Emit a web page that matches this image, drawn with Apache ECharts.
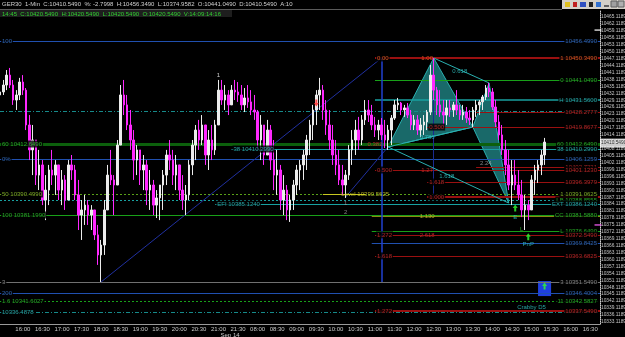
<!DOCTYPE html>
<html>
<head>
<meta charset="utf-8">
<script src="https://cdn.jsdelivr.net/npm/echarts@6/dist/echarts.min.js"></script>
<style>
html, body { margin: 0; padding: 0; background: #000; }
#main { width: 625px; height: 337px; }
</style>
</head>
<body>
<div id="main"></div>
<script>
// 5 minute slots, two sessions (overnight gap removed); day prefix keeps names unique
var sessions = [['13', '15:25', '21:55'], ['14', '08:00', '16:45']];
var dateAt = '13 21:30';
var dateText = 'Sep 14';

var yTicks = [10465.1189, 10462.1189, 10459.1189, 10456.1189, 10453.1189, 10450.1189, 10447.1189, 10444.1189,
	10441.1189, 10438.1189, 10435.1189, 10432.1189, 10429.1189, 10426.1189, 10423.1189, 10420.1189, 10417.1189,
	10414.1189, 10411.1189, 10408.1189, 10405.1189, 10402.1189, 10399.1189, 10396.1189, 10393.1189, 10390.1189,
	10387.1189, 10384.1189, 10381.1189, 10378.1189, 10375.1189, 10372.1189, 10369.1189, 10366.1189, 10363.1189,
	10360.1189, 10357.1189, 10354.1189, 10351.1189, 10348.1189, 10345.1189, 10342.1189, 10339.1189, 10336.1189,
	10333.1189];

// price bars, one per slot from 13 15:25
var barHigh = [10435.7, 10437.9, 10442.2, 10443.1, 10437.9, 10433.5, 10438.8, 10440.0, 10434.4, 10422.7,
	10418.4, 10411.9, 10407.6, 10403.2, 10396.7, 10401.1, 10407.6, 10403.2, 10401.1, 10398.9,
	10396.7, 10403.2, 10405.4, 10401.1, 10394.6, 10385.9, 10388.1, 10385.9, 10383.7, 10381.6,
	10375.1, 10368.6, 10385.9, 10401.1, 10407.6, 10396.7, 10411.9, 10435.7, 10437.9, 10431.4,
	10424.9, 10416.2, 10409.7, 10407.6, 10405.4, 10403.2, 10398.9, 10394.6, 10390.2, 10388.1,
	10398.9, 10407.6, 10411.9, 10407.6, 10405.4, 10401.1, 10396.7, 10392.4, 10403.2, 10411.9,
	10418.4, 10420.6, 10422.7, 10418.4, 10416.2, 10418.4, 10420.6, 10437.9, 10437.9, 10435.7,
	10433.5, 10435.7, 10437.9, 10437.0, 10435.7, 10434.4, 10435.7, 10433.5, 10431.4, 10424.9,
	10422.7, 10418.4, 10420.6, 10418.4, 10411.9, 10407.6, 10401.1, 10396.7, 10392.4, 10388.1,
	10394.6, 10401.1, 10403.2, 10407.6, 10414.1, 10420.6, 10427.1, 10433.5, 10438.8, 10435.7,
	10429.2, 10424.9, 10418.4, 10411.9, 10407.6, 10401.1, 10398.9, 10409.7, 10416.2, 10420.6,
	10421.9, 10422.7, 10429.2, 10429.2, 10427.1, 10421.9, 10420.6, 10421.4, 10420.6, 10418.4,
	10422.7, 10429.2, 10430.1, 10428.4, 10427.1, 10427.9, 10424.9, 10422.7, 10422.7, 10421.4,
	10422.7, 10424.9, 10444.4, 10447.4, 10434.9, 10433.5, 10429.2, 10429.2, 10429.2, 10428.4,
	10433.5, 10427.1, 10427.1, 10426.2, 10424.9, 10426.2, 10429.2, 10429.2, 10431.4, 10435.7,
	10436.6, 10434.4, 10429.2, 10422.7, 10418.4, 10411.9, 10407.6, 10403.2, 10403.2, 10398.9,
	10394.6, 10388.1, 10385.9, 10396.7, 10401.1, 10403.2, 10407.6, 10412.8];
var barLow = [10427.1, 10431.4, 10433.5, 10434.4, 10427.1, 10424.9, 10429.2, 10431.4, 10416.2, 10403.2,
	10396.7, 10392.4, 10390.2, 10383.7, 10377.2, 10383.7, 10392.4, 10388.1, 10385.9, 10383.7,
	10381.6, 10390.2, 10394.6, 10385.9, 10372.9, 10368.6, 10375.1, 10375.1, 10372.9, 10368.6,
	10357.8, 10350.4, 10362.1, 10381.6, 10392.4, 10379.4, 10392.4, 10411.9, 10422.7, 10416.2,
	10407.6, 10394.6, 10396.7, 10392.4, 10390.2, 10383.7, 10381.6, 10379.4, 10378.1, 10377.2,
	10381.6, 10392.4, 10398.9, 10392.4, 10390.2, 10385.9, 10381.6, 10379.4, 10385.9, 10396.7,
	10403.2, 10407.6, 10409.7, 10401.1, 10398.9, 10403.2, 10405.4, 10418.4, 10427.1, 10424.9,
	10422.7, 10427.1, 10429.2, 10428.4, 10424.9, 10424.0, 10425.8, 10422.7, 10420.6, 10407.6,
	10403.2, 10401.1, 10407.6, 10398.9, 10390.2, 10388.1, 10381.6, 10379.4, 10377.2, 10376.4,
	10381.6, 10388.1, 10390.2, 10394.6, 10398.9, 10405.4, 10411.9, 10418.4, 10424.9, 10420.6,
	10414.1, 10407.6, 10401.1, 10396.7, 10392.4, 10388.1, 10386.8, 10394.6, 10401.1, 10405.4,
	10407.6, 10409.7, 10418.4, 10419.7, 10416.2, 10413.2, 10411.9, 10411.9, 10408.4, 10407.6,
	10409.7, 10420.6, 10424.9, 10422.7, 10421.9, 10421.4, 10416.2, 10416.2, 10414.1, 10413.2,
	10414.1, 10416.2, 10422.7, 10429.2, 10422.7, 10421.9, 10417.5, 10418.4, 10421.9, 10421.9,
	10422.7, 10420.6, 10420.6, 10419.3, 10418.4, 10417.5, 10421.9, 10422.7, 10424.9, 10429.2,
	10430.5, 10424.9, 10417.5, 10411.9, 10405.4, 10396.7, 10390.2, 10383.7, 10390.2, 10385.9,
	10378.5, 10372.9, 10377.2, 10382.9, 10388.1, 10393.3, 10396.7, 10401.1];
var barClose = [10432.7, 10435.7, 10440.0, 10435.7, 10429.2, 10431.4, 10437.0, 10433.5, 10418.4, 10407.6,
	10411.9, 10396.7, 10401.1, 10385.9, 10390.2, 10398.9, 10396.7, 10401.1, 10390.2, 10394.6,
	10385.9, 10401.1, 10398.9, 10388.1, 10379.4, 10381.6, 10383.7, 10379.4, 10381.6, 10370.8,
	10362.1, 10366.4, 10381.6, 10396.7, 10394.6, 10392.4, 10409.7, 10431.4, 10427.1, 10418.4,
	10411.9, 10403.2, 10407.6, 10398.9, 10401.1, 10390.2, 10392.4, 10383.7, 10386.8, 10392.4,
	10396.7, 10405.4, 10403.2, 10396.7, 10401.1, 10390.2, 10385.9, 10388.1, 10401.1, 10409.7,
	10416.2, 10411.9, 10418.4, 10405.4, 10411.9, 10407.6, 10418.4, 10433.5, 10429.2, 10431.4,
	10427.1, 10433.5, 10432.7, 10431.4, 10427.1, 10430.1, 10428.4, 10424.9, 10424.0, 10411.9,
	10418.4, 10405.4, 10416.2, 10403.2, 10396.7, 10398.9, 10385.9, 10390.2, 10381.6, 10385.9,
	10392.4, 10398.9, 10401.1, 10405.4, 10411.9, 10418.4, 10424.9, 10431.4, 10433.5, 10424.9,
	10418.4, 10411.9, 10405.4, 10401.1, 10394.6, 10392.4, 10396.7, 10407.6, 10411.9, 10416.2,
	10411.9, 10420.6, 10424.9, 10422.7, 10418.4, 10416.2, 10418.4, 10414.1, 10411.9, 10416.2,
	10421.4, 10427.1, 10427.9, 10424.9, 10425.8, 10422.7, 10418.4, 10420.6, 10416.2, 10418.4,
	10419.7, 10424.0, 10440.0, 10433.5, 10427.1, 10424.0, 10422.7, 10425.8, 10424.9, 10427.1,
	10424.9, 10422.7, 10424.0, 10421.4, 10420.6, 10424.9, 10427.1, 10428.4, 10430.5, 10434.4,
	10432.7, 10426.2, 10419.7, 10414.1, 10407.6, 10401.1, 10392.4, 10396.7, 10392.4, 10388.1,
	10381.6, 10383.7, 10381.6, 10394.6, 10398.9, 10401.1, 10405.4, 10411.0];

// horizontal levels: price, start slot ('hh:mm' means Sep 14), texts
var levelPrice = [10454.8, 10447.4, 10437.9, 10429.2, 10424.5, 10424.0, 10417.5, 10410.2, 10408.0, 10403.7,
	10400.2, 10398.9, 10393.7, 10388.5, 10387.2, 10385.9, 10384.2, 10379.4, 10378.8, 10372.5,
	10370.8, 10367.3, 10361.7, 10350.4, 10345.6, 10342.2, 10337.4, 10337.8];
var levelFrom = ['13 15:25', '11:00', '11:00', '11:00', '13 15:25', '13:35', '12:20', '13 15:25', '13 21:20', '13 15:25',
	'13:35', '11:00', '12:20', '13 15:25', '12:20', '13 15:25', '13 20:55', '13 15:25', '10:55', '10:55',
	'11:00', '10:55', '11:00', '13 15:25', '13 15:25', '13 15:25', '13 15:25', '11:00'];
var levelLeft = ['100', '0.00', '', '', '', '', '0.500', '60 10412.6490', '38 10410.2990', '0%',
	'', '0.500', '1.618', '50 10390.4990', '1.000', '', 'EFI 10385.1240', '100 10381.1990', '', '',
	'1.272', '', '1.618', '3', '200', '1.6 10341.6027', '10336.4878', '1.272'];
var levelRight = ['10456.4990', '1 10450.3490', '0 10441.0490', 'H 10431.5600', '', '10428.2777', '10419.8677',
	'60 10412.6490', '38 10410.2990', '10406.1259', '10402.7221', '10401.1230', '10396.3979', '1 10391.0625', '',
	'LB 10388.8555', 'EXT 10386.1240', 'CC 10381.5880', '', 'L 10376.6490', '10372.5490', '10369.8425',
	'10363.6825', '3 10351.5490', '10346.4004', '11 10342.5827', '', '10337.5490'];
// line colour, width, dash, text colour
var levelStyle = [
	['#2050b0', 1, 'solid', '#3a7ad8'], ['#9a1010', 2, 'solid', '#ff6a2a'], ['#18a018', 1, 'solid', '#30d030'],
	['#18a0a0', 1.5, 'solid', '#30c8c8'], ['#168a8a', 1, [4, 2, 1, 2], '#30c8c8'], ['#9a1010', 1, 'solid', '#d83030'],
	['#9a1010', 1, 'solid', '#d83030'], ['#0c600c', 3, 'solid', '#30d030'], ['#18a0a0', 1, 'solid', '#30c8c8'],
	['#2050b0', 1, 'solid', '#3a7ad8'], ['#9a1010', 1, 'solid', '#d83030'], ['#9a1010', 1, 'solid', '#d83030'],
	['#9a1010', 1, 'solid', '#d83030'], ['#5aa018', 1, [2, 2], '#9ad030'], ['#9a1010', 2, 'solid', '#d83030'],
	['#18a0a0', 1, [2, 2], '#30d030'], ['#18a0a0', 1, 'solid', '#30c8c8'], ['#18a018', 1, 'solid', '#30d030'],
	['#8a8a10', 1, 'solid', '#c8c830'], ['#18a018', 1, 'solid', '#30d030'], ['#9a1010', 1, 'solid', '#d83030'],
	['#2050b0', 1, 'solid', '#3a7ad8'], ['#9a1010', 1, 'solid', '#d83030'], ['#707070', 1, 'solid', '#a0a0a0'],
	['#2050b0', 1, 'solid', '#3a7ad8'], ['#18a018', 1, [2, 2], '#30d030'], ['#168a8a', 1, [4, 2, 1, 2], '#30c8c8'],
	['#9a1010', 2, 'solid', '#d83030']];

// harmonic pattern X A B C D
var patternTime = ['11:20', '12:30', '13:30', '13:55', '14:25'];
var patternPrice = [10408.9, 10447.4, 10417.5, 10436.6, 10384.6];
var patternTris = [[0, 1, 2], [2, 3, 4]];
var patternLegs = [[0, 2], [1, 3], [0, 4]];

// other lines: from / to
var trendFrom = [['13 18:00', 10350.4], ['10:15', 10387.2], ['11:10', 10447.4], ['12:30', 10447.4], ['09:40', 10388.5]];
var trendTo = [['11:10', 10447.4], ['11:20', 10408.9], ['11:10', 10350.4], ['12:30', 10387.2], ['10:45', 10388.5]];
var trendStyle = [['#2030a0', 1], ['#2030a0', 1], ['#2040d0', 1.5], ['#1a2a90', 1], ['#c8c820', 1]];

// small texts on the chart
var noteTime = ['12:20', '11:00', '12:20', '12:20', '12:20', '10:45', '12:20', '13:10', '12:50', '13:50',
	'13 21:00', '10:15', '10:15', '14:35', '14:45', '14:55', '15:00'];
var notePrice = [10447.4, 10410.2, 10398.9, 10378.8, 10370.8, 10388.5, 10413.2, 10441.8, 10396.3, 10401.9,
	10440.0, 10384.6, 10380.7, 10378.5, 10373.4, 10366.6, 10339.3];
var noteText = ['1.00', '0.382', '1.27', '1.130', '2.618', 'Level 10390.5625', '0.786', '0.618', '1.618', '2.24',
	'1', '1', '2', 'E', 'L', 'PnP', 'Crabby D5'];
var noteColor = ['#ff6a2a', '#d83030', '#d83030', '#c8c830', '#d83030', '#d8d830', '#30c8c8', '#30c8c8', '#30c8c8', '#a0a0a0',
	'#ffffff', '#a0a0a0', '#a0a0a0', '#30c8c8', '#30d030', '#30c8c8', '#30c8c8'];

// signal arrows
var arrowTime = ['14:35', '14:55', '15:20', '09:30'];
var arrowPrice = [10382.4, 10370.0, 10348.7, 10427.9];
var arrowUp = [true, true, true, false];

// blue box
var boxFrom = '15:10', boxTo = '15:30', boxTop = 10350.8, boxBottom = 10344.3;

// right axis markers
var lastPrice = 10410.549;
var markerPink = 10375.1;
var markerWhite = 10459.5;

var headerText = 'GER30  1-Min  C:10410.5490  %: -2.7998  H:10456.3490  L:10374.9582  O:10441.0490  D:10410.5490  A:10';
var infoText = '14:45  C:10420.5490  H:10420.5490  L:10420.5490  O:10420.5490  V:14:09:14:16';

var FONT = 'Liberation Sans';

function toMin(s) { var p = s.split(':'); return +p[0] * 60 + +p[1]; }
function fmt(m) { var h = Math.floor(m / 60), n = m % 60; return (h < 10 ? '0' : '') + h + ':' + (n < 10 ? '0' : '') + n; }
function at(t) { return t.indexOf(' ') < 0 ? '14 ' + t : t; }

var cats = [];
sessions.forEach(function (s) {
	for (var m = toMin(s[1]); m <= toMin(s[2]); m += 5) cats.push(s[0] + ' ' + fmt(m));
});
var lastCat = cats[cats.length - 1];

var candles = barClose.map(function (c, i) {
	var o = i ? barClose[i - 1] : (barHigh[0] + barLow[0]) / 2;
	return [o, c, Math.min(barLow[i], o, c), Math.max(barHigh[i], o, c)];
});

var levelLines = levelPrice.map(function (p, i) {
	var st = levelStyle[i];
	return [{ coord: [at(levelFrom[i]), p], lineStyle: { color: st[0], width: st[1], type: st[2] } },
		{ coord: [lastCat, p] }];
});

var trendLines = trendFrom.map(function (f, i) {
	return [{ coord: [at(f[0]), f[1]], lineStyle: { color: trendStyle[i][0], width: trendStyle[i][1], type: 'solid' } },
		{ coord: [at(trendTo[i][0]), trendTo[i][1]] }];
});
patternLegs.forEach(function (l) {
	trendLines.push([{ coord: [at(patternTime[l[0]]), patternPrice[l[0]]], lineStyle: { color: '#2ab0b0', width: 1, type: 'solid' } },
		{ coord: [at(patternTime[l[1]]), patternPrice[l[1]]] }]);
});

var labelItems = [];
function addLabel(t, p, text, color, pos, extra) {
	var lab = { show: true, formatter: text, color: color, position: pos, distance: 1 };
	if (extra) for (var k in extra) lab[k] = extra[k];
	labelItems.push({ value: [at(t), p], label: lab });
}
levelPrice.forEach(function (p, i) {
	if (levelLeft[i]) addLabel(levelFrom[i], p, levelLeft[i], levelStyle[i][3], 'right');
	if (levelRight[i]) addLabel(lastCat, p, levelRight[i], levelStyle[i][3], 'left', { distance: 2 });
});
noteText.forEach(function (t, i) {
	addLabel(noteTime[i], notePrice[i], t, noteColor[i], 'inside', { backgroundColor: 'transparent' });
});
addLabel(lastCat, lastPrice, lastPrice.toFixed(4), '#000', 'right',
	{ backgroundColor: '#ffffff', padding: [1, 1], distance: 0, fontSize: 4.8 });

var arrowPath = 'path://M5,0 L10,5 L7,5 L7,10 L3,10 L3,5 L0,5 Z';

var chart = echarts.init(document.getElementById('main'));
var option = {
	backgroundColor: '#000',
	animation: false,
	grid: { left: 0, right: 25, top: 10, bottom: 13, containLabel: false, outerBoundsMode: 'none' },
	xAxis: {
		type: 'category',
		data: cats,
		boundaryGap: false,
		axisLine: { lineStyle: { color: '#9a9a9a' } },
		axisTick: { show: false },
		splitLine: { show: false },
		axisLabel: {
			interval: function (i, v) {
				var mm = v.slice(-2);
				return i > 4 && i < cats.length - 2 && (mm === '00' || mm === '30');
			},
			color: '#c8c8c8',
			fontSize: 6,
			fontFamily: FONT,
			margin: 2,
			lineHeight: 6,
			formatter: function (v) { return v === dateAt ? v.slice(3) + '\n{d|' + dateText + '}' : v.slice(3); },
			rich: { d: { fontSize: 6, lineHeight: 6, fontFamily: FONT, color: '#c8c8c8', padding: [0, 16, 0, 0] } }
		}
	},
	yAxis: {
		type: 'value',
		position: 'right',
		min: 10332.2,
		max: 10468.2,
		axisLine: { show: true, lineStyle: { color: '#d0d0d0', type: 'dotted' } },
		axisTick: { show: false },
		splitLine: { show: false },
		axisLabel: {
			customValues: yTicks,
			formatter: function (v) { return v.toFixed(4); },
			color: '#c8c8c8',
			fontSize: 4.8,
			fontFamily: FONT,
			margin: 1
		}
	},
	graphic: [
		{ type: 'line', shape: { x1: 0, y1: 9.5, x2: 562, y2: 9.5 }, style: { stroke: '#5a5a5a' }, z: 100 },
		{ type: 'rect', shape: { x: 0, y: 10, width: 232, height: 7 }, style: { fill: '#1e1e1e' }, z: 100 },
		{ type: 'text', x: 2, y: 1, z: 101, style: { text: headerText, fill: '#d0d0d0', font: '6px "Liberation Sans"', verticalAlign: 'top' } },
		{ type: 'text', x: 2, y: 11, z: 101, style: { text: infoText, fill: '#30d030', font: '6px "Liberation Sans"', verticalAlign: 'top' } },
		{ type: 'rect', shape: { x: 562, y: 0, width: 63, height: 9 }, style: { fill: '#d4d0c8' }, z: 100 },
		{ type: 'rect', shape: { x: 565, y: 2, width: 5, height: 5 }, style: { fill: '#e0c020' }, z: 101 },
		{ type: 'rect', shape: { x: 573, y: 2, width: 4, height: 5 }, style: { fill: '#c02020' }, z: 101 },
		{ type: 'rect', shape: { x: 580, y: 2, width: 6, height: 5 }, style: { fill: '#3050c0' }, z: 101 },
		{ type: 'rect', shape: { x: 589, y: 2, width: 4, height: 5 }, style: { fill: '#202020' }, z: 101 },
		{ type: 'rect', shape: { x: 596, y: 2, width: 5, height: 5 }, style: { fill: '#3070d0' }, z: 101 },
		{ type: 'rect', shape: { x: 604, y: 5, width: 5, height: 2 }, style: { fill: '#606060' }, z: 101 },
		{ type: 'rect', shape: { x: 611, y: 1, width: 6, height: 6 }, style: { fill: '#a0a0a0', stroke: '#606060' }, z: 101 },
		{ type: 'rect', shape: { x: 618, y: 1, width: 6, height: 6 }, style: { fill: '#b0b0b0', stroke: '#606060' }, z: 101 }
	],
	series: [
		{
			name: 'levels', type: 'line', data: [], z: 1, silent: true,
			markLine: { symbol: 'none', silent: true, label: { show: false }, animation: false, data: levelLines }
		},
		{
			name: 'lines', type: 'line', data: [], z: 2, silent: true,
			markLine: { symbol: 'none', silent: true, label: { show: false }, animation: false, data: trendLines },
			markArea: {
				silent: true,
				itemStyle: { color: '#1f3fe0', opacity: 1 },
				data: [[{ coord: [at(boxFrom), boxTop] }, { coord: [at(boxTo), boxBottom] }]]
			}
		},
		{
			name: 'pattern', type: 'custom', z: 3, silent: true, clip: false,
			data: patternTris.map(function (t, i) { return [cats.indexOf(at(patternTime[t[0]])), patternPrice[t[0]], i]; }),
			renderItem: function (params, api) {
				var pts = patternTris[params.dataIndex].map(function (j) {
					return api.coord([cats.indexOf(at(patternTime[j])), patternPrice[j]]);
				});
				return { type: 'polygon', shape: { points: pts }, style: { fill: 'rgba(34,140,140,0.75)', stroke: '#2ab0b0', lineWidth: 1 } };
			}
		},
		{
			name: 'GER30', type: 'candlestick', z: 5, barWidth: 2,
			data: candles,
			itemStyle: { color: '#ececec', color0: '#ff28ff', borderColor: '#ececec', borderColor0: '#ff28ff', borderWidth: 1 }
		},
		{
			name: 'labels', type: 'scatter', z: 10, silent: true, clip: false, symbolSize: 0,
			label: { show: true, fontSize: 6, fontFamily: FONT, backgroundColor: '#000', padding: [0, 1], lineHeight: 7 },
			data: labelItems
		},
		{
			name: 'arrows', type: 'scatter', z: 11, silent: true, clip: false,
			symbol: arrowPath, symbolSize: [5, 7],
			data: arrowTime.map(function (t, i) {
				return {
					value: [at(t), arrowPrice[i]],
					symbolRotate: arrowUp[i] ? 0 : 180,
					itemStyle: { color: arrowUp[i] ? '#30ff30' : '#ff2020' }
				};
			})
		},
		{
			name: 'markers', type: 'scatter', z: 11, silent: true, clip: false,
			symbol: 'rect', symbolSize: [7, 1.5], symbolOffset: [-2, 0],
			data: [
				{ value: [lastCat, markerPink], itemStyle: { color: '#ff60ff' } },
				{ value: [lastCat, markerWhite], itemStyle: { color: '#ffffff' } }
			]
		}
	]
};
chart.setOption(option);
</script>
</body>
</html>
